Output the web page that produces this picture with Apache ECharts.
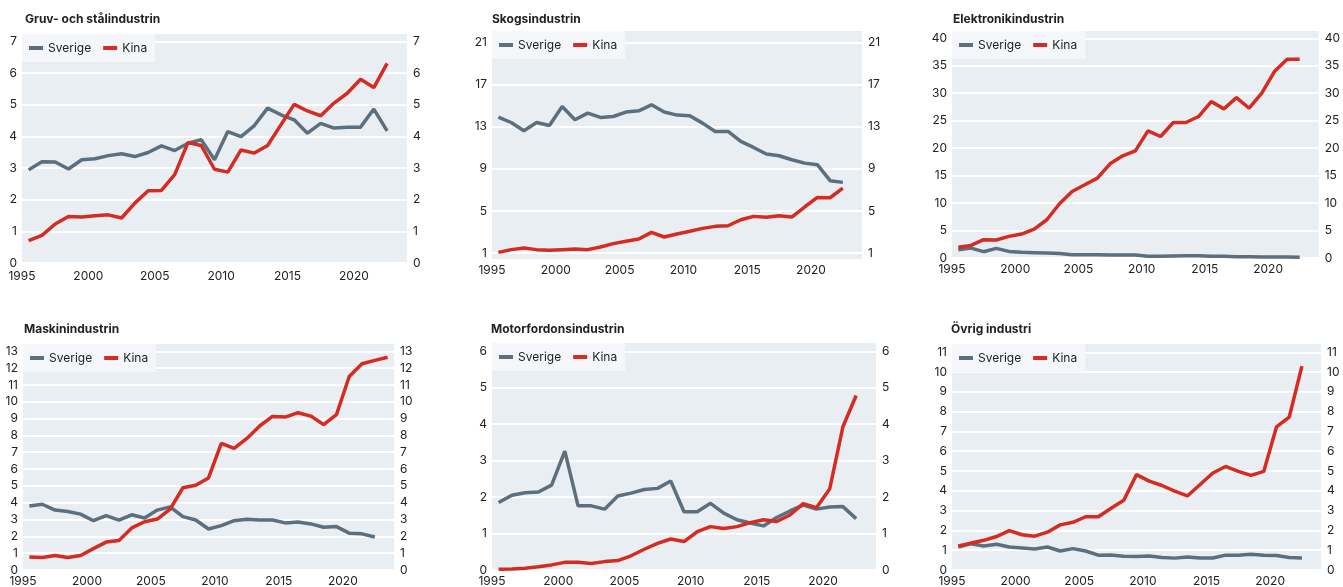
<!DOCTYPE html>
<html>
<head>
<meta charset="utf-8">
<script src="https://cdn.jsdelivr.net/npm/echarts@6/dist/echarts.min.js"></script>
<style>
html,body{margin:0;padding:0;background:#fff;}
#chart{width:1343px;height:587px;}
</style>
</head>
<body>
<div id="chart"></div>
<script>
// år (punkterna ligger mitt i året)
var years = [1995,1996,1997,1998,1999,2000,2001,2002,2003,2004,2005,2006,2007,2008,
             2009,2010,2011,2012,2013,2014,2015,2016,2017,2018,2019,2020,2021,2022,2023];
var xTicks = [1995,2000,2005,2010,2015,2020];

var titles = ['Gruv- och stålindustrin','Skogsindustrin','Elektronikindustrin',
              'Maskinindustrin','Motorfordonsindustrin','Övrig industri'];

// y-axlarnas skalstreck
var yTicksGruv   = [0,1,2,3,4,5,6,7];
var yTicksSkog   = [1,5,9,13,17,21];
var yTicksElektr = [0,5,10,15,20,25,30,35,40];
var yTicksMaskin = [0,1,2,3,4,5,6,7,8,9,10,11,12,13];
var yTicksMotor  = [0,1,2,3,4,5,6];
var yTicksOvrig  = [0,1,2,3,4,5,6,7,8,9,10,11];

// data
var gruvSverige = [2.94,3.2,3.19,2.97,3.26,3.29,3.39,3.45,3.36,3.49,3.7,3.55,3.78,3.89,
                   3.26,4.15,3.99,4.34,4.89,4.68,4.52,4.1,4.41,4.26,4.29,4.29,4.86,4.17];
var gruvKina    = [0.71,0.87,1.23,1.47,1.45,1.49,1.52,1.42,1.89,2.28,2.29,2.79,3.8,3.71,
                   2.96,2.87,3.57,3.47,3.71,4.36,5.01,4.8,4.65,5.05,5.36,5.8,5.54,6.3];

var skogSverige = [13.91,13.4,12.61,13.4,13.12,14.92,13.66,14.29,13.88,13.97,14.39,14.51,15.08,14.39,
                   14.1,14.04,13.34,12.55,12.55,11.6,11.03,10.4,10.24,9.86,9.54,9.39,7.87,7.71];
var skogKina    = [1.06,1.32,1.47,1.32,1.25,1.32,1.38,1.32,1.57,1.89,2.11,2.33,2.96,2.52,
                   2.8,3.06,3.34,3.53,3.59,4.16,4.48,4.39,4.54,4.42,5.37,6.28,6.25,7.17];

var elektrSverige = [1.5,1.8,1.15,1.75,1.2,1.03,0.97,0.9,0.8,0.6,0.6,0.6,0.55,0.55,
                     0.55,0.3,0.3,0.36,0.42,0.42,0.3,0.3,0.24,0.24,0.18,0.18,0.18,0.12];
var elektrKina    = [1.94,2.3,3.33,3.27,3.94,4.36,5.27,6.97,9.88,12.12,13.33,14.55,17.15,18.6,
                     19.5,23.15,22.12,24.67,24.67,25.76,28.48,27.15,29.2,27.27,30,33.94,36.18,36.18];

var maskinSverige = [3.81,3.91,3.56,3.48,3.32,2.93,3.23,2.97,3.28,3.09,3.56,3.75,3.17,2.97,
                     2.44,2.64,2.93,3.01,2.97,2.97,2.8,2.85,2.74,2.54,2.58,2.19,2.15,1.96];
var maskinKina    = [0.78,0.74,0.86,0.74,0.86,1.27,1.66,1.76,2.5,2.87,3.03,3.62,4.89,5.04,
                     5.47,7.53,7.23,7.82,8.56,9.13,9.09,9.35,9.15,8.64,9.23,11.5,12.26,12.46,12.65];

var motorSverige = [1.85,2.05,2.12,2.14,2.33,3.26,1.76,1.76,1.67,2.03,2.11,2.21,2.24,2.44,
                    1.6,1.6,1.83,1.56,1.38,1.29,1.21,1.44,1.62,1.78,1.67,1.73,1.74,1.41];
var motorKina    = [0.02,0.03,0.05,0.09,0.14,0.21,0.21,0.18,0.23,0.26,0.39,0.57,0.73,0.85,
                    0.78,1.05,1.19,1.14,1.19,1.3,1.38,1.33,1.51,1.82,1.71,2.22,3.93,4.79];

var ovrigSverige = [1.16,1.33,1.21,1.3,1.16,1.11,1.06,1.16,0.96,1.08,0.96,0.75,0.76,0.7,
                    0.68,0.71,0.63,0.6,0.66,0.61,0.61,0.75,0.75,0.8,0.75,0.73,0.63,0.61];
var ovrigKina    = [1.21,1.36,1.5,1.69,1.99,1.78,1.71,1.91,2.28,2.41,2.69,2.69,3.12,3.52,
                    4.82,4.49,4.27,3.99,3.74,4.32,4.9,5.23,4.98,4.78,4.98,7.23,7.72,10.3];

var sverigeData = [gruvSverige, skogSverige, elektrSverige, maskinSverige, motorSverige, ovrigSverige];
var kinaData    = [gruvKina, skogKina, elektrKina, maskinKina, motorKina, ovrigKina];
var yTicks      = [yTicksGruv, yTicksSkog, yTicksElektr, yTicksMaskin, yTicksMotor, yTicksOvrig];

// placering av diagrammen (pixlar)
var boxes = [
  {l:22,  r:407,  t:34,  b:263, padT:7.3, padB:0, xm:7, titleX:25,  titleY:13},
  {l:492, r:862,  t:31,  b:259, padT:11.5, padB:6, xm:5, titleX:492, titleY:13},
  {l:952, r:1321, t:31,  b:258, padT:7.3, padB:0, xm:5, titleX:953, titleY:13},
  {l:23,  r:394,  t:344, b:573, padT:7.4, padB:0, xm:5, titleX:24,  titleY:323},
  {l:492, r:876,  t:343, b:571, padT:8.4, padB:0, xm:5, titleX:491, titleY:323},
  {l:952, r:1321, t:344, b:573, padT:8.4, padB:0, xm:5, titleX:951, titleY:323}
];

var GREY = '#5b6f7e', RED = '#d52b20', BG = '#e9eef3', TXT = '#222';
var FONT = 'Inter, "Noto Sans", sans-serif';

function pairs(arr){
  return arr.map(function(v,i){ return [years[i] + 0.5, v]; });
}

var option = {
  animation: false,
  textStyle: {fontFamily: FONT},
  title: [], grid: [], xAxis: [], yAxis: [], legend: [], series: []
};

boxes.forEach(function(b, i){
  var ticks = yTicks[i];
  var lo = ticks[0], hi = ticks[ticks.length-1];
  var h = b.b - b.t;
  var ppu = (h - b.padT - b.padB) / (hi - lo);
  var ymin = lo - b.padB / ppu;
  var ymax = hi + b.padT / ppu;

  option.title.push({
    text: titles[i], left: b.titleX, top: b.titleY, padding: 0,
    textStyle: {fontFamily: FONT, fontSize: 12, fontWeight: 'bold', color: TXT}
  });
  option.grid.push({
    left: b.l, top: b.t, width: b.r - b.l, height: h,
    show: true, backgroundColor: BG, borderWidth: 0
  });
  option.xAxis.push({
    type: 'value', gridIndex: i, min: 1995, max: 2024,
    axisLine: {show: false},
    axisTick: {show: false},
    splitLine: {show: false},
    axisLabel: {customValues: xTicks, margin: b.xm, color: TXT, fontSize: 12, fontFamily: FONT,
                formatter: function(v){ return String(v); }}
  });
  [ 'left', 'right' ].forEach(function(pos){
    option.yAxis.push({
      type: 'value', gridIndex: i, position: pos, min: ymin, max: ymax,
      axisLine: {show: false},
      axisTick: {show: false, customValues: ticks},
      splitLine: {show: pos === 'left', lineStyle: {color: '#fff', width: 2}},
      axisLabel: {customValues: ticks, margin: pos === 'left' ? 5 : 6, color: TXT, fontSize: 12, fontFamily: FONT}
    });
  });
  option.legend.push({
    left: b.l, top: b.t, orient: 'horizontal',
    data: ['Sverige', 'Kina'],
    backgroundColor: '#f4f6f9',
    padding: [8, 8, 8, 7],
    itemGap: 12, itemWidth: 14, itemHeight: 4, icon: 'rect',
    textStyle: {color: TXT, fontSize: 12, fontFamily: FONT}
  });
  option.series.push({
    name: 'Sverige', type: 'line', xAxisIndex: i, yAxisIndex: i*2,
    data: pairs(sverigeData[i]), showSymbol: false, symbol: 'none',
    lineStyle: {color: GREY, width: 3.5}, itemStyle: {color: GREY}
  });
  option.series.push({
    name: 'Kina', type: 'line', xAxisIndex: i, yAxisIndex: i*2,
    data: pairs(kinaData[i]), showSymbol: false, symbol: 'none',
    lineStyle: {color: RED, width: 3.5}, itemStyle: {color: RED}
  });
});

var chart = echarts.init(document.getElementById('chart'));
chart.setOption(option);
</script>
</body>
</html>
